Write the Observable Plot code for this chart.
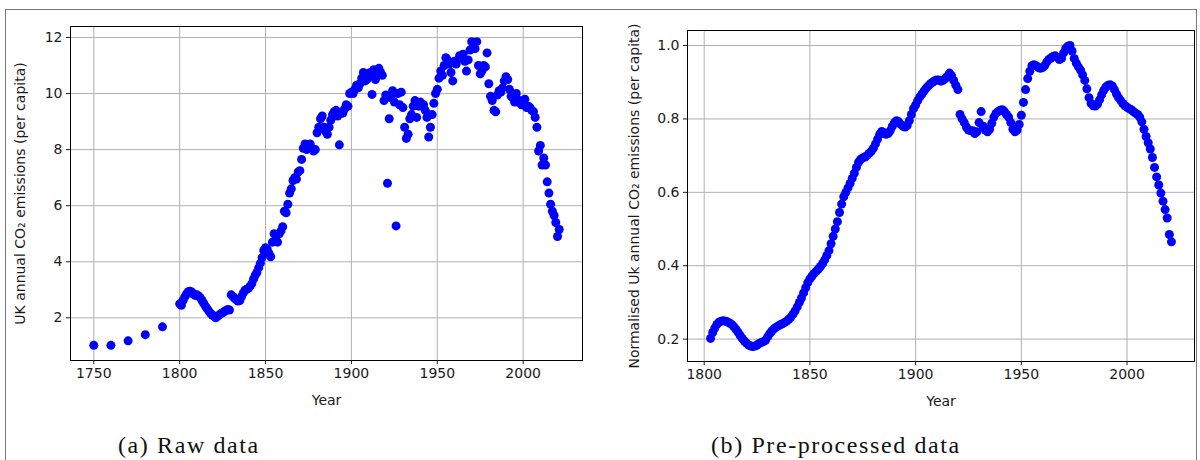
<!DOCTYPE html>
<html>
<head>
<meta charset="utf-8">
<script src="https://cdn.jsdelivr.net/npm/d3@7"></script>
<script src="https://cdn.jsdelivr.net/npm/@observablehq/plot@0.6"></script>
<style>
  html, body { margin: 0; padding: 0; background: #fff; }
  #wrap { position: relative; width: 1200px; height: 460px; overflow: hidden; background: #fff; }
  #border { position: absolute; left: 5px; top: 9px; width: 1192px; height: 470px; border: 1px solid #777; box-sizing: border-box; }
  .panel { position: absolute; top: 0; }
  .cap { position: absolute; font-family: "Liberation Serif", "DejaVu Serif", serif; font-size: 24px; letter-spacing: 1.6px; color: #111; white-space: nowrap; line-height: 1; }
</style>
</head>
<body>
<div id="wrap">
  <div id="border"></div>
  <div id="pa" class="panel" style="left:0px"></div>
  <div id="pb" class="panel" style="left:600px"></div>
  <div class="cap" id="capA" style="left:118px; top:433px">(a) Raw data</div>
  <div class="cap" id="capB" style="left:711px; top:433px">(b) Pre-processed data</div>
</div>
<script>
// ---------- Data: (a) raw UK annual CO2 emissions per capita ----------
const rawEarlyYears = [1750, 1760, 1770, 1780, 1790];
const rawEarlyValues = [1.02, 1.02, 1.18, 1.40, 1.68];
const rawYearlyStart = 1800;
const rawYearlyValues = [
  2.50, 2.45, 2.62, 2.75, 2.85, 2.93, 2.95, 2.92, 2.85, 2.80,
  2.82, 2.78, 2.72, 2.62, 2.52, 2.42, 2.33, 2.24, 2.16, 2.10,
  2.05, 2.00, 2.05, 2.10, 2.15, 2.18, 2.22, 2.26, 2.30, 2.28,
  2.82, 2.76, 2.70, 2.64, 2.60, 2.62, 2.75, 2.88, 2.98, 3.02,
  3.05, 3.12, 3.22, 3.38, 3.52, 3.62, 3.78, 3.95, 4.15, 4.40,
  4.50, 4.45, 4.30, 4.18, 4.70, 5.00, 4.80, 4.70, 5.00, 5.10,
  5.25, 5.80, 5.75, 6.05, 6.45, 6.60, 6.90, 7.00, 6.95, 7.20,
  7.25, 7.65, 8.05, 8.20, 8.00, 8.15, 8.20, 8.05, 7.95, 8.00,
  8.60, 8.80, 9.10, 9.20, 8.80, 8.65, 8.55, 8.80, 9.05, 9.25,
  9.35, 9.40, 9.20, 8.17, 9.30, 9.30, 9.45, 9.60, 9.55, 10.00,
  10.05, 10.00, 10.15, 10.30, 10.20, 10.35, 10.55, 10.75, 10.45, 10.50,
  10.60, 10.75, 9.97, 10.85, 10.50, 10.70, 10.90, 10.75, 10.65, 9.75,
  9.95, 6.80, 9.10, 9.85, 10.10, 9.70, 5.28, 10.00, 9.60, 10.05,
  9.50, 8.80, 8.40, 8.55, 9.10, 9.25, 9.55, 9.75, 9.15, 9.55,
  9.70, 9.55, 9.60, 9.40, 9.15, 8.45, 8.80, 9.25, 9.65, 10.00,
  10.15, 10.55, 10.80, 10.65, 11.00, 11.28, 11.20, 11.05, 10.75, 10.45,
  11.15, 11.05, 11.20, 11.35, 11.30, 11.40, 11.15, 10.80, 11.20, 11.55,
  11.85, 11.70, 11.60, 11.85, 11.00, 10.70, 10.80, 11.00, 10.95, 11.45,
  10.35, 9.90, 9.75, 9.40, 9.35, 9.95, 10.10, 10.05, 10.20, 10.45,
  10.60, 10.50, 10.15, 9.90, 9.85, 9.70, 10.00, 9.70, 9.75, 9.60,
  9.70, 9.80, 9.50, 9.55, 9.50, 9.40, 9.35, 9.15, 8.80, 7.95,
  8.15, 7.45, 7.70, 7.45, 6.85, 6.45, 6.05, 5.80, 5.65, 5.40,
  4.90, 5.15
];

// ---------- Data: (b) normalised (pre-processed) series ----------
const normStart = 1803;
const normValues = [
  0.202, 0.218, 0.230, 0.240, 0.246, 0.249, 0.250,
  0.249, 0.247, 0.244, 0.240, 0.234, 0.227, 0.219, 0.210, 0.202, 0.195,
  0.189, 0.184, 0.181, 0.180, 0.181, 0.184, 0.188, 0.191, 0.193, 0.197,
  0.206, 0.215, 0.222, 0.228, 0.232, 0.236, 0.239, 0.242, 0.245, 0.249,
  0.254, 0.260, 0.268, 0.277, 0.288, 0.300, 0.312, 0.326, 0.340, 0.354,
  0.364, 0.372, 0.379, 0.385, 0.391, 0.398, 0.406, 0.416, 0.428, 0.441,
  0.460, 0.480, 0.500, 0.520, 0.545, 0.568, 0.588, 0.600, 0.612, 0.624,
  0.638, 0.652, 0.668, 0.682, 0.690, 0.694, 0.696, 0.700, 0.706, 0.712,
  0.720, 0.732, 0.745, 0.758, 0.766, 0.762, 0.758, 0.760, 0.768, 0.780,
  0.790, 0.795, 0.792, 0.785, 0.780, 0.778, 0.782, 0.795, 0.812, 0.828,
  0.838, 0.850, 0.860, 0.868, 0.876, 0.884, 0.890, 0.896, 0.900, 0.904,
  0.906, 0.906, 0.903, 0.905, 0.910, 0.916, 0.925, 0.918, 0.905, 0.892,
  0.880, 0.812, 0.800, 0.790, 0.778, 0.770, 0.768, 0.768, 0.760, 0.765,
  0.790, 0.820, 0.780, 0.770, 0.765, 0.772, 0.788, 0.805, 0.815, 0.820,
  0.824, 0.825, 0.820, 0.812, 0.805, 0.790, 0.772, 0.765, 0.770, 0.785,
  0.810, 0.845, 0.880, 0.910, 0.930, 0.945, 0.948, 0.945, 0.940, 0.938,
  0.940, 0.945, 0.955, 0.962, 0.966, 0.970, 0.972, 0.968, 0.962, 0.965,
  0.980, 0.992, 0.998, 1.000, 0.985, 0.965, 0.952, 0.942, 0.933, 0.920,
  0.905, 0.882, 0.858, 0.842, 0.836, 0.835, 0.840, 0.852, 0.866, 0.878,
  0.887, 0.892, 0.893, 0.890, 0.880, 0.868, 0.858, 0.850, 0.842, 0.836,
  0.832, 0.828, 0.825, 0.820, 0.816, 0.812, 0.805, 0.792, 0.772, 0.752,
  0.735, 0.718, 0.695, 0.668, 0.642, 0.620, 0.598, 0.576, 0.553, 0.530,
  0.485, 0.465
];

// ---------- Ticks and labels ----------
const xTicksA = [1750, 1800, 1850, 1900, 1950, 2000];
const yTicksA = [2, 4, 6, 8, 10, 12];
const xTicksB = [1800, 1850, 1900, 1950, 2000];
const yTicksB = [0.2, 0.4, 0.6, 0.8, 1.0];
const xLabel = "Year";
const yLabelA = "UK annual CO\u2082 emissions (per capita)";
const yLabelB = "Normalised Uk annual CO\u2082 emissions (per capita)";

// ---------- Build tables ----------
const rawData = rawEarlyYears.map((yr, i) => ({year: yr, value: rawEarlyValues[i]}))
  .concat(rawYearlyValues.map((v, i) => ({year: rawYearlyStart + i, value: v})));
const normData = normValues.map((v, i) => ({year: normStart + i, value: v}));

// matplotlib-like 5% margins
function padded(ext) { const d = ext[1] - ext[0]; return [ext[0] - 0.05 * d, ext[1] + 0.05 * d]; }

const GRID = "#b0b0b0";
const BLUE = "#0000ff";
const font = {fontFamily: "'DejaVu Sans', sans-serif", fontSize: "14px", color: "#1a1a1a", background: "transparent"};

function panel({data, xTicks, yTicks, yLabel, yFmt, marginLeft, marginRight, marginTop, marginBottom, yLabelOffset}) {
  return Plot.plot({
    width: 600,
    height: 420,
    marginLeft, marginRight, marginTop, marginBottom,
    style: font,
    x: {domain: padded(d3.extent(data, d => d.year))},
    y: {domain: padded(d3.extent(data, d => d.value))},
    marks: [
      Plot.gridX(xTicks, {stroke: GRID, strokeOpacity: 1, strokeWidth: 1}),
      Plot.gridY(yTicks, {stroke: GRID, strokeOpacity: 1, strokeWidth: 1}),
      Plot.dot(data, {x: "year", y: "value", r: 4.5, fill: BLUE, stroke: "none"}),
      Plot.frame({stroke: "#000", strokeWidth: 1}),
      Plot.axisX(xTicks, {tickSize: 4, tickPadding: 4, tickFormat: d3.format("d"),
        label: xLabel, labelAnchor: "center", labelArrow: "none", labelOffset: 44}),
      Plot.axisY(yTicks, {tickSize: 4, tickPadding: 4, tickFormat: yFmt,
        label: yLabel, labelAnchor: "center", labelArrow: "none", labelOffset: yLabelOffset})
    ]
  });
}

document.getElementById("pa").appendChild(panel({
  data: rawData, xTicks: xTicksA, yTicks: yTicksA, yLabel: yLabelA, yFmt: d3.format("d"),
  marginLeft: 70, marginRight: 18, marginTop: 26, marginBottom: 60, yLabelOffset: 55
}));
document.getElementById("pb").appendChild(panel({
  data: normData, xTicks: xTicksB, yTicks: yTicksB, yLabel: yLabelB, yFmt: d3.format(".1f"),
  marginLeft: 87, marginRight: 6, marginTop: 30, marginBottom: 59, yLabelOffset: 58
}));
</script>
</body>
</html>
